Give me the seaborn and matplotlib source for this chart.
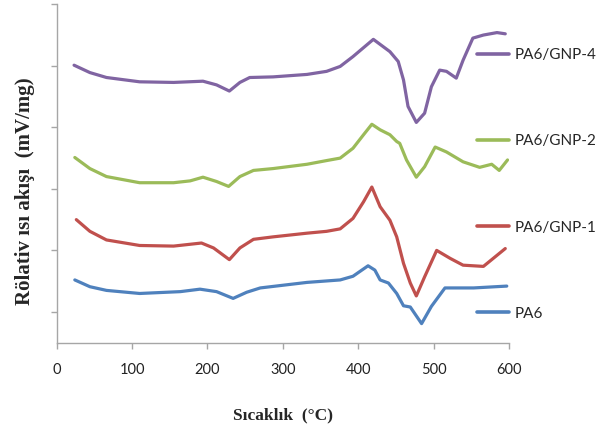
import numpy as np
import pandas as pd
import matplotlib
matplotlib.use('Agg')
import matplotlib.pyplot as plt
import seaborn as sns

# DSC curves (temperature in C, relative heat flow)
gnp4_t = [23, 44, 66, 110, 155, 194, 212, 229, 243, 256, 287, 332, 358, 376, 393, 420, 442, 453, 460,
          466, 477, 488, 497, 508, 517, 530, 539, 552, 566, 584, 595]
gnp4_q = [4.01, 3.89, 3.81, 3.74, 3.73, 3.75, 3.69, 3.59, 3.73, 3.81, 3.82, 3.86, 3.91, 3.99, 4.15, 4.43,
          4.23, 4.07, 3.77, 3.34, 3.08, 3.23, 3.66, 3.93, 3.91, 3.80, 4.09, 4.45, 4.50, 4.54, 4.52]

gnp2_t = [24, 44, 66, 110, 155, 177, 194, 212, 228, 243, 261, 287, 332, 358, 376, 393, 407, 418, 429,
          442, 451, 455, 464, 477, 488, 502, 517, 539, 561, 577, 587, 598]
gnp2_q = [2.51, 2.33, 2.20, 2.10, 2.10, 2.13, 2.19, 2.12, 2.04, 2.20, 2.30, 2.33, 2.40, 2.46, 2.50, 2.66,
          2.88, 3.05, 2.96, 2.88, 2.77, 2.74, 2.47, 2.19, 2.36, 2.68, 2.60, 2.44, 2.35, 2.40, 2.30, 2.47]

gnp1_t = [26, 44, 66, 110, 155, 192, 208, 229, 243, 261, 287, 332, 358, 376, 393, 407, 418, 429, 442,
          451, 460, 469, 477, 488, 504, 522, 539, 566, 581, 595]
gnp1_q = [1.50, 1.31, 1.17, 1.08, 1.07, 1.12, 1.04, 0.85, 1.04, 1.18, 1.22, 1.28, 1.31, 1.35, 1.52, 1.79,
          2.03, 1.71, 1.49, 1.22, 0.79, 0.47, 0.26, 0.57, 1.00, 0.87, 0.76, 0.74, 0.89, 1.03]

pa6_t = [24, 44, 66, 110, 164, 190, 212, 234, 252, 270, 332, 376, 393, 413, 422, 429, 440, 451, 460,
         469, 484, 497, 515, 553, 597]
pa6_q = [0.52, 0.41, 0.35, 0.30, 0.33, 0.37, 0.33, 0.22, 0.32, 0.39, 0.48, 0.52, 0.58, 0.75, 0.68, 0.52,
         0.47, 0.30, 0.10, 0.08, -0.19, 0.09, 0.39, 0.39, 0.42]

series = ['PA6/GNP-4', 'PA6/GNP-2', 'PA6/GNP-1', 'PA6']
colors = ['#8064A2', '#9BBB59', '#C0504D', '#4F81BD']
x_ticks = [0, 100, 200, 300, 400, 500, 600]

frames = []
for name, t, q in zip(series, [gnp4_t, gnp2_t, gnp1_t, pa6_t], [gnp4_q, gnp2_q, gnp1_q, pa6_q]):
    frames.append(pd.DataFrame({'T': t, 'Q': q, 'sample': name}))
df = pd.concat(frames, ignore_index=True)

sns.set_style('white')
plt.rcParams['font.family'] = ['Lato', 'DejaVu Sans']

fig = plt.figure(figsize=(6.06, 4.28), dpi=100)
ax = fig.add_axes([0.0936, 0.1993, 0.7464, 0.7907])

sns.lineplot(data=df, x='T', y='Q', hue='sample', hue_order=series, palette=colors,
             sort=False, estimator=None, linewidth=2.3, ax=ax, legend=False)

ax.set_xlim(0, 600)
ax.set_ylim(-0.5, 5)
ax.set_xticks(x_ticks)
ax.set_xticklabels([str(v) for v in x_ticks], fontsize=10.5, color='#222222')
ax.set_yticks([0, 1, 2, 3, 4, 5])
ax.set_yticklabels([])
for s in ['top', 'right']:
    ax.spines[s].set_visible(False)
for s in ['left', 'bottom']:
    ax.spines[s].set_color('#a6a6a6')
    ax.spines[s].set_linewidth(1.0)
ax.tick_params(axis='both', direction='out', length=4.5, width=1.0, color='#a6a6a6',
               left=True, bottom=True)
ax.tick_params(axis='x', pad=10)

ax.set_xlabel('Sıcaklık  (°C)', fontsize=12.5, fontweight='bold', family='Liberation Serif', labelpad=22)
ax.set_ylabel('Rölativ ısı akışı  (mV/mg)', fontsize=15, fontweight='bold', family='Liberation Serif')
ax.yaxis.set_label_coords(-0.048, 0.448)

handles = [plt.Line2D([], [], color=c, linewidth=2.6) for c in colors]
ax.legend(handles, series, loc='upper left', bbox_to_anchor=(477 / 606, 1 - 48 / 428),
          bbox_transform=fig.transFigure, frameon=False, fontsize=11, handlelength=2.1,
          handletextpad=0.35, labelspacing=4.73, borderpad=0, borderaxespad=0)

fig.savefig('out.png', dpi=100)
